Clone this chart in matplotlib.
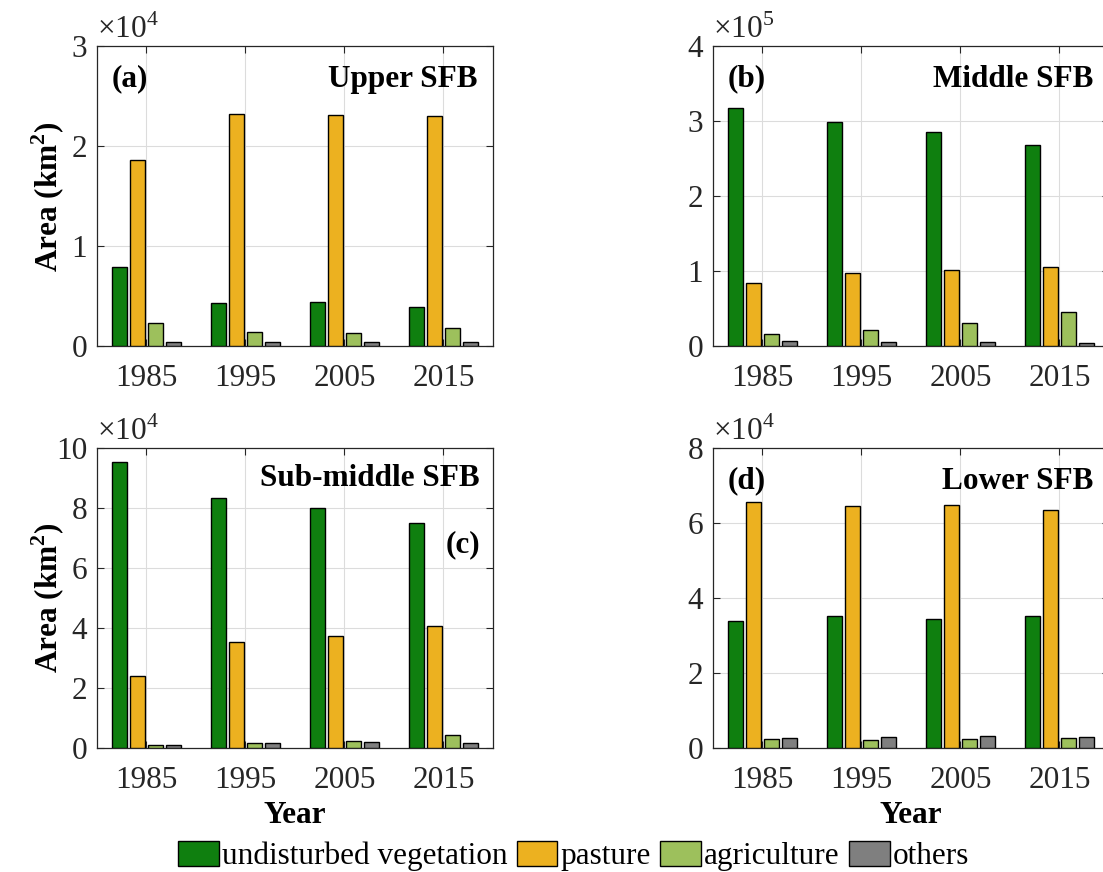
import numpy as np
import matplotlib
matplotlib.use('Agg')
import matplotlib.pyplot as plt
from matplotlib.patches import Patch
from matplotlib.ticker import FuncFormatter

plt.rcParams['font.family'] = ['Liberation Serif', 'DejaVu Serif']
plt.rcParams['mathtext.fontset'] = 'custom'
plt.rcParams['mathtext.rm'] = 'Liberation Serif'
plt.rcParams['mathtext.bf'] = 'Liberation Serif:bold'

years = ['1985', '1995', '2005', '2015']
classes = ['undisturbed vegetation', 'pasture', 'agriculture', 'others']
colors = ['#0f7f0f', '#ecb120', '#9dc05c', '#7f7f7f']

# area (km2) per class, one row per class, one column per year
upper = [[7900, 4300, 4400, 3900],
         [18600, 23200, 23100, 23000],
         [2300, 1400, 1300, 1800],
         [400, 400, 400, 400]]
middle = [[318000, 299000, 285000, 268000],
          [84000, 98000, 101000, 106000],
          [16000, 22000, 31000, 45000],
          [7000, 5000, 5000, 4000]]
submiddle = [[95300, 83300, 80000, 75000],
             [24000, 35300, 37500, 40700],
             [1000, 1800, 2500, 4500],
             [1000, 1800, 2000, 1800]]
lower = [[34000, 35100, 34500, 35100],
         [65700, 64600, 64800, 63500],
         [2400, 2200, 2300, 2800],
         [2600, 2900, 3100, 2900]]

panels = [
    (upper, 'Upper SFB', '(a)', 4, 3, (0.0879, 0.603)),
    (middle, 'Middle SFB', '(b)', 5, 4, (0.6464, 0.603)),
    (submiddle, 'Sub-middle SFB', '(c)', 4, 10, (0.0879, 0.1422)),
    (lower, 'Lower SFB', '(d)', 4, 8, (0.6464, 0.1422)),
]

fig = plt.figure(figsize=(11.03, 8.72), dpi=100)
fs = 22.5
edge = '#262626'
step, width = 0.18, 0.15
x = np.arange(1, len(years) + 1)

for k, (data, name, tag, expo, ymax, (left, bottom)) in enumerate(panels):
    ax = fig.add_axes([left, bottom, 0.359, 0.344])
    for i, vals in enumerate(data):
        ax.bar(x + (i - 1.5) * step, vals, width, color=colors[i],
               edgecolor='black', linewidth=1.0, zorder=3)
    ax.set_xlim(0.5, 4.5)
    ax.set_ylim(0, ymax * 10**expo)
    step_y = 1 if ymax <= 4 else 2
    ax.set_yticks(np.arange(0, ymax + 1, step_y) * 10**expo)
    ax.yaxis.set_major_formatter(FuncFormatter(lambda v, p, e=expo: f'{v / 10**e:g}'))
    ax.set_xticks(x)
    ax.set_xticklabels(years)
    ax.grid(True, color='#dcdcdc', linewidth=0.8, zorder=0)
    ax.tick_params(direction='in', top=True, right=True, labelsize=fs,
                   colors=edge, length=5, width=0.8)
    ax.tick_params(axis='x', pad=13)
    ax.tick_params(axis='y', pad=7)
    for s in ax.spines.values():
        s.set_color(edge)
        s.set_linewidth(0.9)
    ax.text(0.0, 1.005, r'$\times10^{%d}$' % expo, transform=ax.transAxes,
            ha='left', va='bottom', fontsize=fs, color=edge)
    if k == 2:
        ax.text(0.967, 0.677, tag, transform=ax.transAxes, ha='right',
                va='center', fontsize=fs, fontweight='bold')
        ax.text(0.967, 0.90, name, transform=ax.transAxes, ha='right',
                va='center', fontsize=fs, fontweight='bold')
    else:
        ax.text(0.038, 0.89, tag, transform=ax.transAxes, ha='left',
                va='center', fontsize=fs, fontweight='bold')
        ax.text(0.96, 0.89, name, transform=ax.transAxes, ha='right',
                va='center', fontsize=fs, fontweight='bold')
    if k in (0, 2):
        ax.set_ylabel(r'Area (km$^{\mathbf{2}}$)', fontsize=fs,
                      fontweight='bold')
        ax.yaxis.set_label_coords(-0.076, 0.5)
    if k in (2, 3):
        ax.set_xlabel('Year', fontsize=fs, fontweight='bold', labelpad=4)

handles = [Patch(facecolor=c, edgecolor='black', linewidth=1.0) for c in colors]
fig.legend(handles, classes, loc='center', bbox_to_anchor=(0.52, 0.018),
           ncol=4, frameon=False, fontsize=fs, handlelength=1.3,
           handleheight=0.85, handletextpad=0.1, columnspacing=0.3)

fig.savefig('out.png', dpi=100)
